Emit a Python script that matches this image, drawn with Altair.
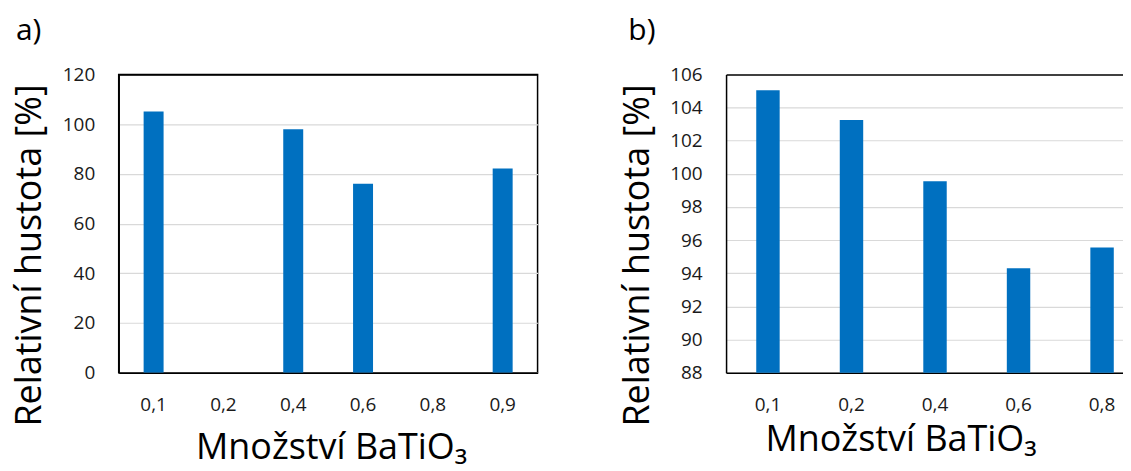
import altair as alt
import pandas as pd

# ---- data ----
categories_a = ["0,1", "0,2", "0,4", "0,6", "0,8", "0,9"]
values_a = [105.1, None, 97.9, 76.0, None, 82.1]
yticks_a = [0, 20, 40, 60, 80, 100, 120]

categories_b = ["0,1", "0,2", "0,4", "0,6", "0,8"]
values_b = [105.05, 103.25, 99.55, 94.3, 95.55]
yticks_b = [88, 90, 92, 94, 96, 98, 100, 102, 104, 106]

x_title = "Množství BaTiO₃"
y_title = "Relativní hustota [%]"
FONT = "Open Sans"
BAR = "#0070C0"


def panel(cats, vals, yticks, label, width, pi, po, align, tx, ty, lab_dx, frame):
    df = pd.DataFrame({"cat": cats, "val": vals})
    ymin, ymax = yticks[0], yticks[-1]
    top_test = f"datum.value === {ymax}"
    bars = alt.Chart(df).mark_bar(color=BAR, clip=True).encode(
        x=alt.X(
            "cat:N",
            sort=cats,
            scale=alt.Scale(domain=cats, paddingInner=pi, paddingOuter=po, align=align),
            axis=alt.Axis(
                title=x_title,
                labelAngle=0,
                ticks=False,
                domain=True,
                domainColor="black",
                domainWidth=1.5,
                labelPadding=23,
                labelFontSize=19,
                titleFontSize=36,
                titleX=tx,
                titleY=ty,
                titleAlign="center",
                titleBaseline="alphabetic",
                grid=False,
            ),
        ),
        y=alt.Y(
            "val:Q",
            scale=alt.Scale(domain=[ymin, ymax], zero=False, nice=False),
            axis=alt.Axis(
                values=yticks,
                title=y_title,
                ticks=False,
                domain=True,
                domainColor="black",
                domainWidth=1.5,
                labelPadding=24,
                labelFontSize=19,
                titleFontSize=36,
                titleAngle=270,
                titleX=-78,
                titleY=181,
                titleAlign="center",
                titleBaseline="alphabetic",
                grid=True,
                gridColor={"condition": {"test": top_test, "value": "black"}, "value": "#d9d9d9"},
                gridWidth={"condition": {"test": top_test, "value": 1.5}, "value": 1.2},
            ),
        ),
    )
    props = dict(
        width=width,
        height=299,
        title=alt.TitleParams(
            label,
            anchor="start",
            frame="group",
            fontSize=30,
            font=FONT,
            fontWeight="normal",
            color="black",
            dx=lab_dx,
            offset=-4,
            baseline="alphabetic",
        ),
    )
    if frame:
        props["view"] = alt.ViewBackground(stroke="black", strokeWidth=1.5)
    else:
        props["view"] = alt.ViewBackground(stroke="transparent", strokeWidth=0)
    return bars.properties(**props)


chart_a = panel(categories_a, values_a, yticks_a, "a)", 420, 0.714, 0.357, 0.5, 213, 86, -103, True)
chart_b = panel(categories_b, values_b, yticks_b, "b)", 398, 0.7194, 0.2358, 0.766, 175, 78, -98, False)

chart = (
    alt.hconcat(chart_a, chart_b, spacing=80)
    .properties(padding={"left": 3, "top": 6, "right": 0, "bottom": 0})
    .configure(background="white")
    .configure_axis(
        labelFont=FONT,
        titleFont=FONT,
        labelColor="#1a1a1a",
        titleColor="black",
        titleFontWeight="normal",
    )
)

chart.save("out.html", embed_options={"renderer": "svg", "actions": False})
